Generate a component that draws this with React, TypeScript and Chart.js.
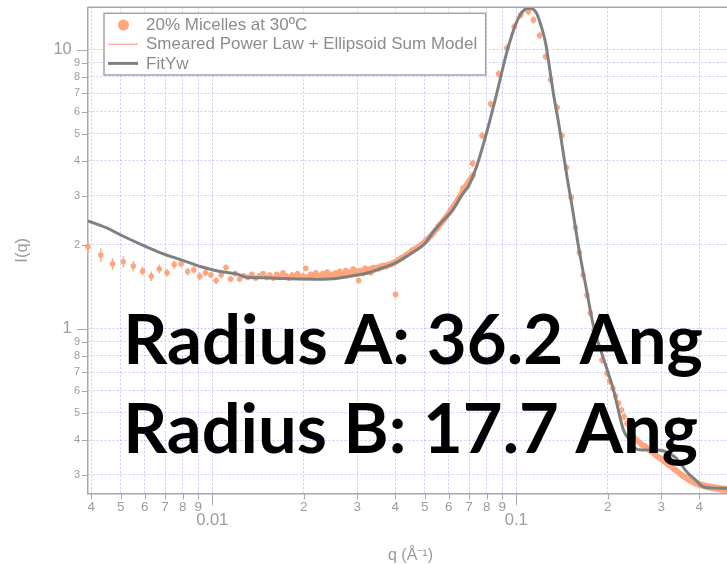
import React, { useEffect, useRef } from 'react';
import { Chart, registerables } from 'chart.js';

Chart.register(...registerables);

// ---------- data ----------
// low-q detector set, sparse part (with visible error bars)
const lowQ = [0.0039, 0.0043, 0.0047, 0.0051, 0.0055, 0.0059, 0.0063, 0.0067, 0.0071, 0.0075, 0.0079, 0.0083, 0.0087, 0.0091, 0.0095, 0.0099, 0.0103, 0.0107, 0.0111, 0.0115, 0.0119, 0.0123];
const lowI = [1.97, 1.84, 1.71, 1.74, 1.68, 1.61, 1.545, 1.64, 1.59, 1.70, 1.71, 1.605, 1.63, 1.545, 1.59, 1.56, 1.49, 1.56, 1.66, 1.51, 1.58, 1.51];
const lowErr = [0.10, 0.10, 0.08, 0.08, 0.07, 0.06, 0.06, 0.06, 0.05, 0.06, 0.05, 0.05, 0.05, 0.05, 0.05, 0.04, 0.04, 0.04, 0.04, 0.04, 0.04, 0.04];

// low-q detector set, dense part
const denseQ = [
  0.0127, 0.0131, 0.0135, 0.0139, 0.0143, 0.0147, 0.0151, 0.0155, 0.0159, 0.0163,
  0.0167, 0.0171, 0.0175, 0.0179, 0.0183, 0.0187, 0.0191, 0.0195, 0.0199, 0.0203,
  0.0207, 0.0211, 0.0215, 0.0219, 0.0223, 0.0227, 0.0231, 0.0235, 0.0239, 0.0243,
  0.0247, 0.0251, 0.0255, 0.0259, 0.0263, 0.0267, 0.0271, 0.0275, 0.0279, 0.0283,
  0.0287, 0.0291, 0.0295, 0.0299, 0.0303, 0.0308, 0.0313, 0.0318, 0.0323, 0.0328,
  0.0333, 0.0338, 0.0343, 0.0348, 0.0353, 0.0358, 0.0363, 0.0368, 0.0373, 0.0378,
  0.0383, 0.0388, 0.0393, 0.0398, 0.0403, 0.0408, 0.0413, 0.0418, 0.0423, 0.0428,
  0.0433, 0.0438, 0.0443, 0.0448, 0.0453, 0.0458, 0.0463, 0.0468, 0.0473, 0.0478,
  0.0483, 0.0488, 0.0493, 0.0498, 0.0503, 0.0508, 0.0513, 0.0518, 0.0523, 0.0528,
  0.0533, 0.0538, 0.0543, 0.0548, 0.0553, 0.0558, 0.0563, 0.0568, 0.0573, 0.0578,
  0.0583, 0.0588, 0.0593, 0.0598, 0.0603, 0.0608, 0.0613, 0.0618, 0.0623, 0.0628,
  0.0633, 0.0638, 0.0643, 0.0648, 0.0653, 0.0658, 0.0663, 0.0668, 0.0673, 0.0678,
  0.0683, 0.0688, 0.0693, 0.0698, 0.0703, 0.0708, 0.0713, 0.0718, 0.0723
];
const denseI = [
  1.55, 1.53, 1.57, 1.52, 1.55, 1.58, 1.53, 1.56, 1.52, 1.57,
  1.54, 1.59, 1.55, 1.52, 1.56, 1.54, 1.58, 1.53, 1.55, 1.65,
  1.54, 1.57, 1.53, 1.59, 1.56, 1.54, 1.58, 1.55, 1.60, 1.54,
  1.57, 1.55, 1.59, 1.56, 1.61, 1.55, 1.58, 1.62, 1.56, 1.60,
  1.57, 1.64, 1.58, 1.61, 1.49, 1.62, 1.58, 1.65, 1.60, 1.64,
  1.59, 1.66, 1.63, 1.66, 1.64, 1.68, 1.66, 1.69, 1.67, 1.70,
  1.69, 1.72, 1.71, 1.74, 1.74, 1.77, 1.77, 1.80, 1.80, 1.82,
  1.84, 1.85, 1.87, 1.88, 1.90, 1.91, 1.93, 1.94, 1.96, 1.97,
  1.99, 2.01, 2.02, 2.04, 2.06, 2.08, 2.10, 2.13, 2.15, 2.17,
  2.20, 2.23, 2.26, 2.28, 2.31, 2.34, 2.37, 2.40, 2.43, 2.46,
  2.49, 2.52, 2.55, 2.58, 2.61, 2.65, 2.68, 2.72, 2.76, 2.79,
  2.83, 2.87, 2.91, 2.95, 2.99, 3.03, 3.07, 3.12, 3.16, 3.20,
  3.25, 3.29, 3.33, 3.37, 3.41, 3.45, 3.49, 3.53, 3.57
];
const DENSE_REL_ERR = 0.02;

// high-q detector set
const highQ = [
  0.0401, 0.0453, 0.0505, 0.0553, 0.0611, 0.0668, 0.0719, 0.0772, 0.0824, 0.0875,
  0.0932, 0.0985, 0.1035, 0.1097, 0.1139, 0.1194, 0.1250, 0.1298, 0.1365, 0.1413,
  0.1463, 0.1516, 0.1566, 0.1614, 0.1660, 0.1710, 0.1753, 0.1805, 0.1867, 0.1915,
  0.1988, 0.2030, 0.2080, 0.2125, 0.2171, 0.2220, 0.2264, 0.2315, 0.2370, 0.2420,
  0.2470, 0.2520, 0.2570, 0.2620, 0.2670, 0.2720, 0.2770, 0.2820, 0.2870, 0.2920,
  0.2970, 0.3020, 0.3070, 0.3120, 0.3170, 0.3220, 0.3270, 0.3320, 0.3370, 0.3420,
  0.3470, 0.3520, 0.3570, 0.3620, 0.3670, 0.3720, 0.3770, 0.3820, 0.3870, 0.3920,
  0.3970, 0.4020, 0.4070, 0.4120, 0.4170, 0.4220, 0.4270, 0.4320, 0.4370, 0.4420,
  0.4470, 0.4520, 0.4570, 0.4620, 0.4670, 0.4720, 0.4770, 0.4820, 0.4870, 0.4920,
  0.4970, 0.5020, 0.5070, 0.5120
];
const highI = [
  1.33, 1.91, 2.08, 2.33, 2.68, 3.19, 3.92, 4.93, 6.39, 8.20,
  10.14, 12.1, 13.35, 13.7, 12.8, 11.25, 9.46, 7.81, 6.21, 4.93,
  3.79, 2.96, 2.31, 1.88, 1.56, 1.32, 1.14, 0.99, 0.864, 0.774,
  0.694, 0.650, 0.613, 0.575, 0.542, 0.512, 0.485, 0.458, 0.435, 0.418,
  0.404, 0.395, 0.388, 0.382, 0.378, 0.372, 0.366, 0.360, 0.354, 0.349,
  0.344, 0.340, 0.336, 0.331, 0.327, 0.323, 0.318, 0.314, 0.310, 0.306,
  0.302, 0.299, 0.296, 0.293, 0.290, 0.287, 0.285, 0.283, 0.281, 0.280,
  0.278, 0.277, 0.276, 0.275, 0.274, 0.273, 0.272, 0.272, 0.271, 0.270,
  0.270, 0.269, 0.269, 0.268, 0.268, 0.267, 0.267, 0.267, 0.266, 0.266,
  0.266, 0.265, 0.265, 0.265
];
const HIGH_REL_ERR = 0.03;

// FitYw model curve
const fitQ = [0.0039, 0.0045, 0.0050, 0.0060, 0.0068, 0.0080, 0.0092, 0.0105, 0.0120, 0.0130, 0.0150, 0.0170, 0.0193, 0.0220, 0.0260, 0.0290, 0.0326, 0.0360, 0.0400, 0.0426, 0.0460, 0.0500, 0.0534, 0.0570, 0.0619, 0.0660, 0.0700, 0.0740, 0.0776, 0.0820, 0.0869, 0.0936, 0.1010, 0.1049, 0.1094, 0.1145, 0.1174, 0.1210, 0.1250, 0.1290, 0.1331, 0.1380, 0.1424, 0.1470, 0.1528, 0.1607, 0.1700, 0.1798, 0.1940, 0.2090, 0.2254, 0.2360, 0.2460, 0.2600, 0.2750, 0.2895, 0.3040, 0.3200, 0.3367, 0.3520, 0.3677, 0.3900, 0.4116, 0.4400, 0.4800, 0.5200];
const fitI = [2.44, 2.30, 2.17, 1.98, 1.87, 1.76, 1.67, 1.61, 1.575, 1.533, 1.525, 1.515, 1.51, 1.508, 1.52, 1.55, 1.59, 1.65, 1.72, 1.79, 1.89, 2.02, 2.23, 2.42, 2.67, 3.00, 3.28, 3.80, 4.50, 5.60, 7.19, 10.0, 12.8, 13.7, 14.1, 13.9, 13.35, 12.1, 10.57, 8.50, 6.80, 5.45, 4.38, 3.50, 2.74, 1.945, 1.40, 1.02, 0.78, 0.605, 0.4345, 0.40, 0.3735, 0.368, 0.368, 0.368, 0.366, 0.357, 0.344, 0.323, 0.304, 0.287, 0.272, 0.2695, 0.2686, 0.268];

// axes
const xTickValues = [0.004, 0.005, 0.006, 0.007, 0.008, 0.009, 0.01, 0.02, 0.03, 0.04, 0.05, 0.06, 0.07, 0.08, 0.09, 0.1, 0.2, 0.3, 0.4];
const xTickLabels = ['4', '5', '6', '7', '8', '9', '0.01', '2', '3', '4', '5', '6', '7', '8', '9', '0.1', '2', '3', '4'];
const xMajorTicks = [0.01, 0.1];
const yTickValues = [0.3, 0.4, 0.5, 0.6, 0.7, 0.8, 0.9, 1, 2, 3, 4, 5, 6, 7, 8, 9, 10];
const yTickLabels = ['3', '4', '5', '6', '7', '8', '9', '1', '2', '3', '4', '5', '6', '7', '8', '9', '10'];
const yMajorTicks = [1, 10];

const seriesLabels = ['20% Micelles at 30ºC', 'Smeared Power Law + Ellipsoid Sum Model', 'FitYw'];
const xTitle = 'q (Å⁻¹)';
const yTitle = 'I(q)';
const annotationLines = ['Radius A: 36.2 Ang', 'Radius B: 17.7 Ang'];

// ---------- styling ----------
const AX_FONT = '"Liberation Sans", Arial, sans-serif';
const AX_COLOR = '#9c9c9c';
const AXIS_LINE = '#a8a8a8';
const GRID = 'rgba(150,150,255,0.5)';
const DOT = 'rgb(255,166,126)';

const errorBarPlugin = {
  id: 'errorBars',
  beforeDatasetsDraw(chart: any) {
    const ds = chart.data.datasets[0];
    const xs = chart.scales.x;
    const ys = chart.scales.y;
    const ctx = chart.ctx;
    ctx.save();
    ctx.strokeStyle = DOT;
    ctx.lineWidth = 1.5;
    ds.data.forEach((p: any) => {
      if (!p.e) return;
      const px = xs.getPixelForValue(p.x);
      const y1 = ys.getPixelForValue(p.y + p.e);
      const y2 = ys.getPixelForValue(Math.max(p.y - p.e, 1e-6));
      ctx.beginPath();
      ctx.moveTo(px, y1);
      ctx.lineTo(px, y2);
      ctx.stroke();
    });
    ctx.restore();
  },
};

const decorPlugin = {
  id: 'decor',
  afterDraw(chart: any) {
    const ctx = chart.ctx;
    const { left, right, top, bottom } = chart.chartArea;
    const xs = chart.scales.x;
    const ys = chart.scales.y;
    ctx.save();
    // tick marks
    ctx.strokeStyle = AXIS_LINE;
    ctx.lineWidth = 1;
    xs.ticks.forEach((t: any) => {
      const px = Math.round(xs.getPixelForValue(t.value)) + 0.5;
      const len = t.major ? 12 : 6;
      ctx.beginPath();
      ctx.moveTo(px, bottom);
      ctx.lineTo(px, bottom + len);
      ctx.stroke();
    });
    ys.ticks.forEach((t: any) => {
      const py = Math.round(ys.getPixelForValue(t.value)) + 0.5;
      const len = t.major ? 11 : 6;
      ctx.beginPath();
      ctx.moveTo(left - len, py);
      ctx.lineTo(left, py);
      ctx.stroke();
    });
    // top frame line
    ctx.lineWidth = 1.5;
    ctx.beginPath();
    ctx.moveTo(left, top);
    ctx.lineTo(right, top);
    ctx.stroke();

    // legend box
    const bx = 104, by = 13.3, bw = 381.7, bh = 61.7;
    ctx.fillStyle = '#ffffff';
    ctx.fillRect(bx, by, bw, bh);
    ctx.strokeStyle = '#a4a4a4';
    ctx.lineWidth = 1.5;
    ctx.strokeRect(bx, by, bw, bh);
    ctx.font = `17px ${AX_FONT}`;
    ctx.textBaseline = 'middle';
    ctx.textAlign = 'left';
    chart.data.datasets.forEach((d: any, i: number) => {
      const cy = by + 11.7 + i * 19.2;
      if (d.showLine) {
        ctx.strokeStyle = d.borderColor;
        ctx.lineWidth = d.borderWidth;
        ctx.beginPath();
        ctx.moveTo(108, cy);
        ctx.lineTo(138, cy);
        ctx.stroke();
      } else {
        ctx.fillStyle = d.pointBackgroundColor;
        ctx.beginPath();
        ctx.arc(123.5, cy, 5.5, 0, Math.PI * 2);
        ctx.fill();
      }
      ctx.fillStyle = '#8c8c8c';
      ctx.fillText(d.label, 146, cy + 0.5);
    });

    // overlay annotation text
    const baselines = [364, 453];
    const inkLeft = 128.3;
    const inkRight = [701.7, 696.7];
    ctx.fillStyle = '#000000';
    ctx.font = `bold 68.5px Lato, "Open Sans", sans-serif`;
    ctx.textBaseline = 'alphabetic';
    annotationLines.forEach((s, i) => {
      const m = ctx.measureText(s);
      const inkW = m.actualBoundingBoxRight + m.actualBoundingBoxLeft;
      const sx = (inkRight[i] - inkLeft) / inkW;
      ctx.save();
      ctx.translate(inkLeft, baselines[i]);
      ctx.scale(sx, 1);
      ctx.fillText(s, m.actualBoundingBoxLeft, 0);
      ctx.restore();
    });
    ctx.restore();
  },
};

export default function App() {
  const ref = useRef<HTMLCanvasElement | null>(null);

  useEffect(() => {
    if (!ref.current) return;
    const scatterData = [
      ...lowQ.map((q, i) => ({ x: q, y: lowI[i], e: lowErr[i] })),
      ...denseQ.map((q, i) => ({ x: q, y: denseI[i], e: denseI[i] * DENSE_REL_ERR })),
      ...highQ.map((q, i) => ({ x: q, y: highI[i], e: highI[i] * HIGH_REL_ERR })),
    ];
    const fitData = fitQ.map((q, i) => ({ x: q, y: fitI[i] }));

    const chart = new Chart(ref.current, {
      type: 'scatter',
      data: {
        datasets: [
          {
            label: seriesLabels[0],
            data: scatterData,
            pointRadius: 2.8,
            pointBackgroundColor: DOT,
            pointBorderWidth: 0,
            backgroundColor: DOT,
            showLine: false,
            clip: false,
            order: 2,
          } as any,
          {
            label: seriesLabels[1],
            data: [],
            showLine: true,
            borderColor: '#ff8f8f',
            borderWidth: 1,
            pointRadius: 0,
            order: 1,
          },
          {
            label: seriesLabels[2],
            data: fitData,
            showLine: true,
            borderColor: '#808080',
            borderWidth: 3,
            pointRadius: 0,
            cubicInterpolationMode: 'monotone',
            order: 0,
          } as any,
        ],
      },
      options: {
        animation: false,
        responsive: false,
        devicePixelRatio: 1,
        layout: { padding: { top: 7.3, left: 0, right: 0, bottom: 0 } },
        plugins: { legend: { display: false }, tooltip: { enabled: false } },
        scales: {
          x: {
            type: 'logarithmic',
            min: 0.003903,
            max: 0.5168,
            bounds: 'data',
            afterBuildTicks: (scale: any) => {
              scale.ticks = xTickValues.map((v) => ({ value: v, major: xMajorTicks.includes(v) }));
            },
            afterFit: (scale: any) => {
              scale.height = 70.7;
              scale.paddingLeft = 0;
              scale.paddingRight = 0;
            },
            ticks: {
              autoSkip: false,
              maxRotation: 0,
              minRotation: 0,
              padding: 5.6,
              color: AX_COLOR,
              font: (c: any) =>
                c.tick && c.tick.major
                  ? { family: AX_FONT, size: 16.5, lineHeight: 0.88 }
                  : { family: AX_FONT, size: 13.5 },
              callback: (_v: any, i: number) => {
                const lab = xTickLabels[i];
                return xMajorTicks.includes(xTickValues[i]) ? ['', lab] : lab;
              },
            },
            grid: { color: GRID, lineWidth: 1, drawTicks: false },
            border: { display: true, color: AXIS_LINE, width: 1.5, dash: [2, 2] },
            title: {
              display: true,
              text: xTitle,
              color: AX_COLOR,
              font: { family: AX_FONT, size: 16, lineHeight: 1.1 },
              padding: { top: 0, bottom: 0 },
            },
          },
          y: {
            type: 'logarithmic',
            min: 0.2577,
            max: 14.2,
            bounds: 'data',
            afterBuildTicks: (scale: any) => {
              scale.ticks = yTickValues.map((v) => ({ value: v, major: yMajorTicks.includes(v) }));
            },
            afterFit: (scale: any) => {
              scale.width = 88;
              scale.paddingTop = 0;
              scale.paddingBottom = 0;
            },
            ticks: {
              autoSkip: false,
              padding: 8,
              color: AX_COLOR,
              font: (c: any) =>
                c.tick && c.tick.major
                  ? { family: AX_FONT, size: 16.5 }
                  : { family: AX_FONT, size: 11 },
              callback: (_v: any, i: number) => {
                const lab = yTickLabels[i];
                return yMajorTicks.includes(yTickValues[i]) ? lab + '\u2002' : lab;
              },
            },
            grid: { color: GRID, lineWidth: 1, drawTicks: false },
            border: { display: true, color: AXIS_LINE, width: 1.5, dash: [2, 2] },
            title: {
              display: true,
              text: yTitle,
              color: AX_COLOR,
              font: { family: AX_FONT, size: 16.5, lineHeight: 1.2 },
              padding: { top: 12.5, bottom: 0 },
            },
          },
        },
      } as any,
      plugins: [errorBarPlugin, decorPlugin],
    });
    return () => chart.destroy();
  }, []);

  return (
    <div
      style={{
        position: 'absolute',
        left: 0,
        top: 0,
        width: 727,
        height: 564,
        overflow: 'hidden',
        background: '#ffffff',
      }}
    >
      <canvas ref={ref} width={737} height={564} style={{ display: 'block', width: 737, height: 564 }} />
    </div>
  );
}
